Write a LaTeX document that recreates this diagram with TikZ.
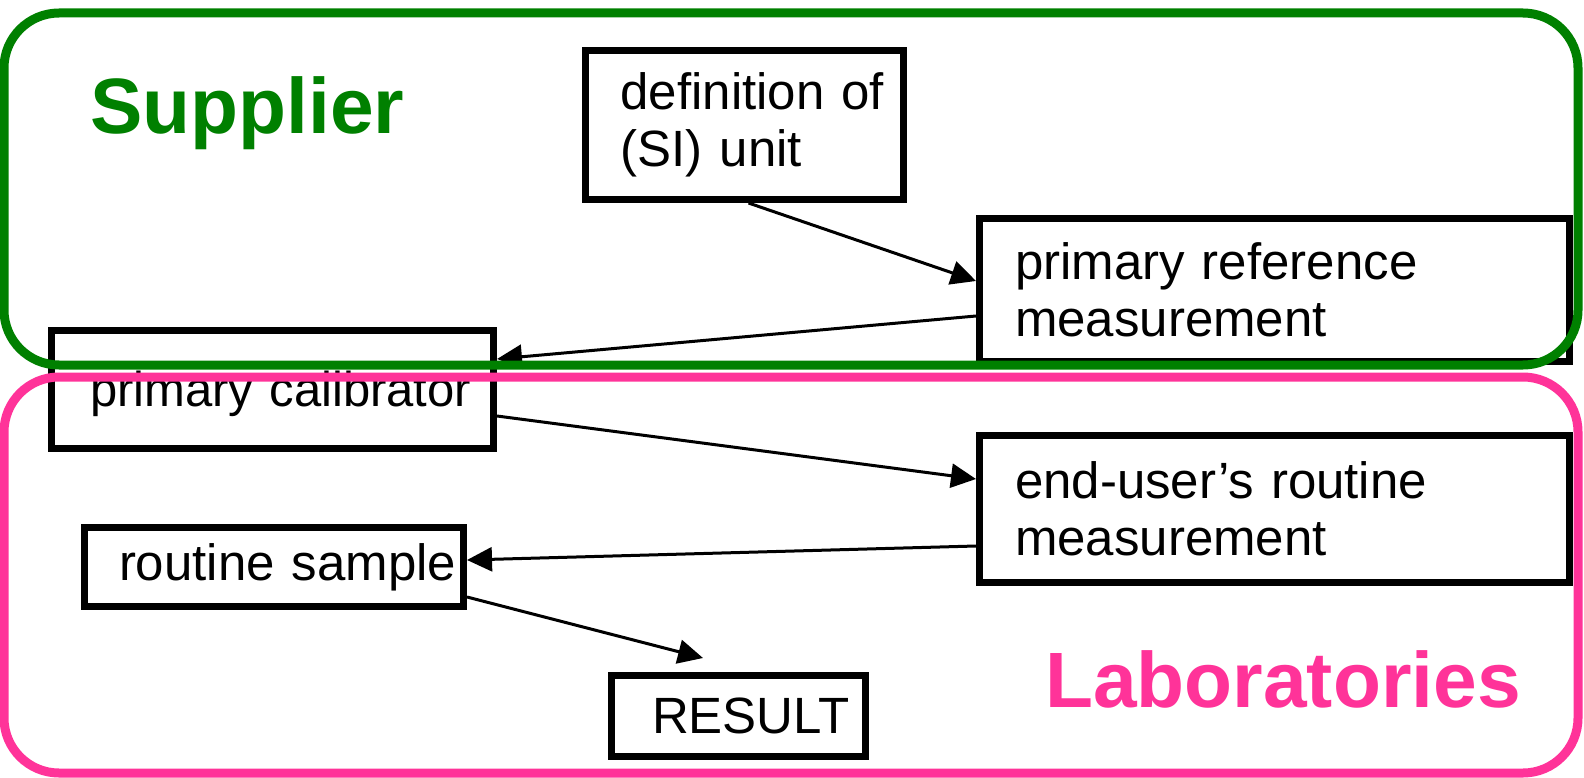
\documentclass[tikz,border=0pt]{standalone}
\usepackage{fontspec}
\setmainfont{Liberation Sans}
\usetikzlibrary{arrows.meta,calc}
\definecolor{supgreen}{RGB}{0,128,0}
\definecolor{labpink}{RGB}{255,51,153}
\begin{document}
\begin{tikzpicture}[x=1pt,y=-1pt,
  stepbox/.style={draw, line width=7pt, fill=white, align=left, inner ysep=0pt,
    font=\fontsize{51}{57}\selectfont},
  flow/.style={line width=3pt, -{Triangle[length=25pt,width=24pt]}},
  region/.style={line width=9pt, rounded corners=55pt},
  tag/.style={font=\fontsize{78.5}{88}\selectfont\bfseries, anchor=base west, inner sep=0pt}]
\useasboundingbox (0,0) rectangle (1584,778);
\fill[white] (0,0) rectangle (1584,778);

% process steps
\node[stepbox, minimum width=318pt, minimum height=149pt, inner xsep=35pt, text width=248pt]
  (unit) at (744.5,125) {\mbox{definition of}\\\mbox{(SI) unit}};
\node[stepbox, minimum width=590pt, minimum height=143pt, inner xsep=35.5pt, text width=519pt]
  (pref) at (1274.5,290) {\mbox{primary reference}\\\mbox{measurement}};
\node[stepbox, minimum width=442pt, minimum height=118pt, inner xsep=38.5pt, text width=365pt,
  text height=44pt, text depth=10pt, font=\fontsize{49}{57}\selectfont]
  (pcal) at (272.5,389.5) {\mbox{primary calibrator}};
\node[stepbox, minimum width=590pt, minimum height=147pt, inner xsep=35.5pt, text width=519pt]
  (euser) at (1274.5,509) {\mbox{end-user's routine}\\\mbox{measurement}};
\node[stepbox, minimum width=379pt, minimum height=79pt, inner xsep=34.5pt, text width=310pt]
  (rsample) at (274,567) {\mbox{routine sample}};
\node[stepbox, minimum width=254pt, minimum height=81pt, inner xsep=40.5pt, text width=173pt]
  (result) at (738.5,716) {\mbox{RESULT}};

% traceability chain
\draw[flow] ([xshift=4pt]unit.south) -- ([yshift=9pt]pref.west);
\draw[flow] ([yshift=-26pt]pref.west) -- ([yshift=30.5pt]pcal.east);
\draw[flow] ([yshift=-26.5pt]pcal.east) -- ([yshift=30pt]euser.west);
\draw[flow] ([yshift=-37pt]euser.west) -- ([yshift=7pt]rsample.east);
\coordinate (rtip) at (703,658);
\draw[flow] ([yshift=-30pt]rsample.east) -- (rtip);

% responsibility regions
\draw[region, supgreen] (4,13) rectangle (1578,365);
\draw[region, labpink] (4,377) rectangle (1578,773);
\node[tag, text=supgreen] (supplier) at (90,134) {Supplier};
\node[tag, text=labpink] (labs) at (1045,707) {Laboratories};
\end{tikzpicture}
\end{document}
